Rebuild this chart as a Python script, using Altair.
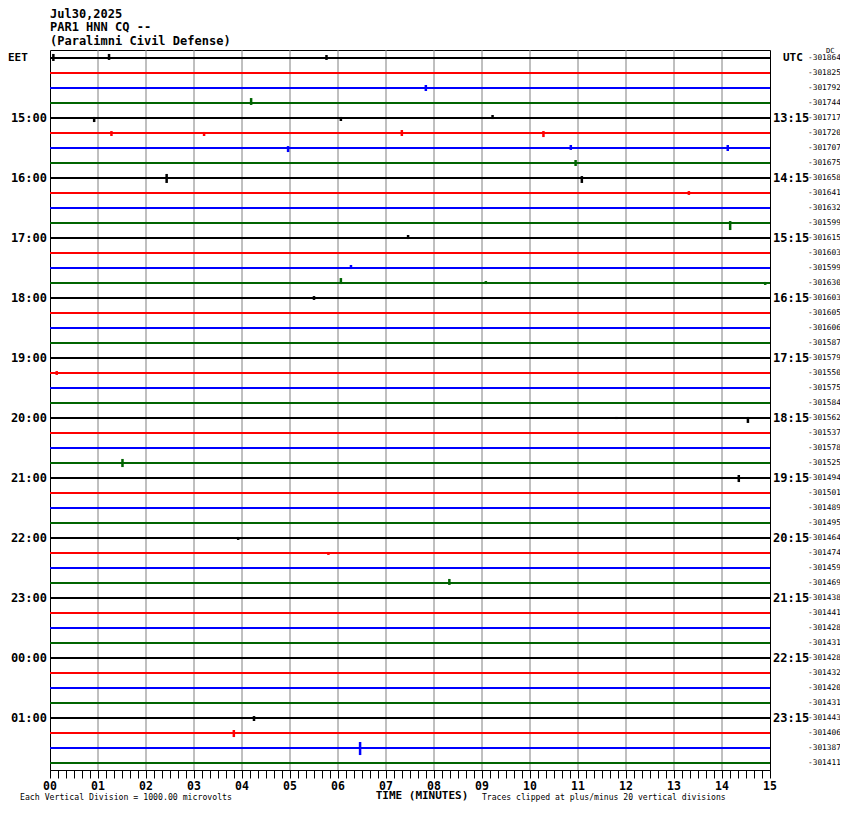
import altair as alt
import pandas as pd

# ---------------- data ----------------
n_traces = 48
trace_colors = ["k", "r", "b", "g"]  # cycle per trace
color_domain = ["k", "r", "b", "g"]
color_range = ["#000000", "#ff0000", "#0000ff", "#006400"]

left_labels_idx = [4, 8, 12, 16, 20, 24, 28, 32, 36, 40, 44]
left_labels = ["15:00", "16:00", "17:00", "18:00", "19:00", "20:00",
               "21:00", "22:00", "23:00", "00:00", "01:00"]
right_labels = ["13:15", "14:15", "15:15", "16:15", "17:15", "18:15",
                "19:15", "20:15", "21:15", "22:15", "23:15"]

dc_values = [-301864, -301825, -301792, -301744, -301717, -301720, -301707, -301675,
             -301658, -301641, -301632, -301599, -301615, -301603, -301599, -301630,
             -301603, -301605, -301606, -301587, -301579, -301550, -301575, -301584,
             -301562, -301537, -301578, -301525, -301494, -301501, -301489, -301495,
             -301464, -301474, -301459, -301469, -301438, -301441, -301428, -301431,
             -301428, -301432, -301420, -301431, -301443, -301406, -301387, -301411]

# events: trace index, minute, upward and downward excursion (in trace spacings)
ev_trace = [0, 0, 0, 2, 3, 4, 4, 4, 5, 5, 5, 5, 6, 6, 6, 7, 8, 8, 9, 11, 12, 14,
            15, 15, 15, 16, 21, 24, 24, 27, 28, 32, 33, 35, 44, 45, 46]
ev_minute = [0.07, 1.23, 5.76, 7.83, 4.19, 0.92, 6.06, 9.22, 1.28, 3.21, 7.33, 10.28,
             4.96, 10.85, 14.12, 10.95, 2.43, 11.08, 13.31, 14.17, 7.46, 6.27,
             6.06, 9.08, 14.9, 5.5, 0.14, 11.8, 14.54, 1.51, 14.35, 3.92, 5.8, 8.32,
             4.25, 3.83, 6.46]
ev_up = [0.27, 0.27, 0.2, 0.2, 0.33, 0.07, 0.07, 0.2, 0.13, 0.07, 0.2, 0.13,
         0.13, 0.2, 0.2, 0.2, 0.27, 0.13, 0.13, 0.13, 0.2, 0.2,
         0.33, 0.13, 0.07, 0.13, 0.13, 0.07, 0.07, 0.27, 0.2, 0.07, 0.07, 0.27,
         0.13, 0.2, 0.4]
ev_down = [0.2, 0.13, 0.13, 0.2, 0.13, 0.27, 0.2, 0.07, 0.2, 0.2, 0.2, 0.27,
           0.27, 0.13, 0.2, 0.2, 0.33, 0.33, 0.13, 0.47, 0.07, 0.07,
           0.07, 0.07, 0.13, 0.13, 0.13, 0.07, 0.33, 0.27, 0.27, 0.13, 0.13, 0.13,
           0.2, 0.27, 0.47]

minutes = list(range(16))
minute_labels = ["%02d" % m for m in minutes]
tick_values = [k / 6 for k in range(91)]

header_lines = ["Jul30,2025", "PAR1 HNN CQ --", "(Paralimni Civil Defense)"]

FONT = "DejaVu Sans Mono"
W, H = 720, 720

# ---------------- tables ----------------
traces = pd.DataFrame({
    "i": list(range(n_traces)),
    "c": [trace_colors[i % 4] for i in range(n_traces)],
    "dc": [str(v) for v in dc_values],
})
events = pd.DataFrame({"i": ev_trace, "m": ev_minute, "up": ev_up, "down": ev_down})
events["y1"] = events["i"] - events["up"]
events["y2"] = events["i"] + events["down"]
events["c"] = [trace_colors[i % 4] for i in events["i"]]

left_df = pd.DataFrame({"i": left_labels_idx, "label": left_labels})
right_df = pd.DataFrame({"i": left_labels_idx, "label": right_labels})
grid_df = pd.DataFrame({"m": minutes[1:-1]})
min_df = pd.DataFrame({"m": minutes, "label": minute_labels})

yscale = alt.Scale(domain=[-8 / 15, (770 - 58) / 15], reverse=True, nice=False, zero=False)
xscale = alt.Scale(domain=[0, 15], nice=False, zero=False)
cscale = alt.Scale(domain=color_domain, range=color_range)

xaxis = alt.Axis(
    values=tick_values, labels=False,
    tickSize=8, tickColor="black", domainColor="black", grid=False, title=None,
)

grid = alt.Chart(grid_df).mark_rule(color="#808080", strokeWidth=1).encode(
    x=alt.X("m:Q", scale=xscale, axis=xaxis),
    y=alt.value(0), y2=alt.value(H),
)

trace_lines = alt.Chart(traces).mark_rule(strokeWidth=2).encode(
    y=alt.Y("i:Q", scale=yscale, axis=None),
    x=alt.value(0), x2=alt.value(W),
    color=alt.Color("c:N", scale=cscale, legend=None),
)

spikes = alt.Chart(events).mark_rule(strokeWidth=2.5).encode(
    x=alt.X("m:Q", scale=xscale, axis=xaxis),
    y=alt.Y("y1:Q", scale=yscale, axis=None),
    y2="y2:Q",
    color=alt.Color("c:N", scale=cscale, legend=None),
)

min_text = alt.Chart(min_df).mark_text(
    font=FONT, fontSize=11.5, fontWeight="bold", align="center", baseline="alphabetic", color="black"
).encode(x=alt.X("m:Q", scale=xscale, axis=xaxis), y=alt.value(740), text="label:N")

left_text = alt.Chart(left_df).mark_text(
    font=FONT, fontSize=12, fontWeight="bold", align="right", baseline="middle", color="black"
).encode(y=alt.Y("i:Q", scale=yscale, axis=None), x=alt.value(-3), text="label:N")

right_text = alt.Chart(right_df).mark_text(
    font=FONT, fontSize=12, fontWeight="bold", align="left", baseline="middle", color="black"
).encode(y=alt.Y("i:Q", scale=yscale, axis=None), x=alt.value(723), text="label:N")

dc_text = alt.Chart(traces).mark_text(
    font=FONT, fontSize=7.8, align="left", baseline="middle", color="black"
).encode(y=alt.Y("i:Q", scale=yscale, axis=None), x=alt.value(758), text="dc:N")

eet_text = alt.Chart(pd.DataFrame({"i": [0], "label": ["EET"]})).mark_text(
    font=FONT, fontSize=11, fontWeight="bold", align="left", baseline="middle", color="black"
).encode(y=alt.Y("i:Q", scale=yscale, axis=None), x=alt.value(-42), text="label:N")
utc_text = alt.Chart(pd.DataFrame({"i": [0], "label": ["UTC"]})).mark_text(
    font=FONT, fontSize=11, fontWeight="bold", align="left", baseline="middle", color="black"
).encode(y=alt.Y("i:Q", scale=yscale, axis=None), x=alt.value(733), text="label:N")
dc_mark = alt.Chart(pd.DataFrame({"label": ["DC"]})).mark_text(
    font=FONT, fontSize=7, align="left", baseline="middle", color="black"
).encode(x=alt.value(776), y=alt.value(1), text="label:N")

header_df = pd.DataFrame({"label": header_lines, "yy": [-32, -19, -5]})
header = alt.Chart(header_df).mark_text(
    font=FONT, fontSize=12, fontWeight="bold", align="left", baseline="alphabetic", color="black"
).encode(x=alt.value(0), y=alt.Y("yy:Q", scale=None), text="label:N")

time_title = alt.Chart(pd.DataFrame({"label": ["TIME (MINUTES)"]})).mark_text(
    font=FONT, fontSize=11, fontWeight="bold", align="center", baseline="alphabetic", color="black"
).encode(x=alt.value(372), y=alt.value(749), text="label:N")
note_left = alt.Chart(pd.DataFrame({"label": ["Each Vertical Division = 1000.00 microvolts"]})).mark_text(
    font=FONT, fontSize=8.2, align="left", baseline="alphabetic", color="black"
).encode(x=alt.value(-30), y=alt.value(750), text="label:N")
note_right = alt.Chart(pd.DataFrame({"label": ["Traces clipped at plus/minus 20 vertical divisions"]})).mark_text(
    font=FONT, fontSize=8.1, align="left", baseline="alphabetic", color="black"
).encode(x=alt.value(432), y=alt.value(750), text="label:N")

chart = alt.layer(
    grid, trace_lines, spikes, min_text, left_text, right_text, dc_text, eet_text, utc_text,
    dc_mark, header, time_title, note_left, note_right,
).properties(
    width=W, height=H,
    autosize=alt.AutoSizeParams(type="none"),
    padding={"left": 42, "top": 42, "right": 70, "bottom": 32},
    background="white",
).configure_view(stroke="black", strokeWidth=1)

chart.save("out.html", embed_options={"renderer": "svg", "actions": False})
